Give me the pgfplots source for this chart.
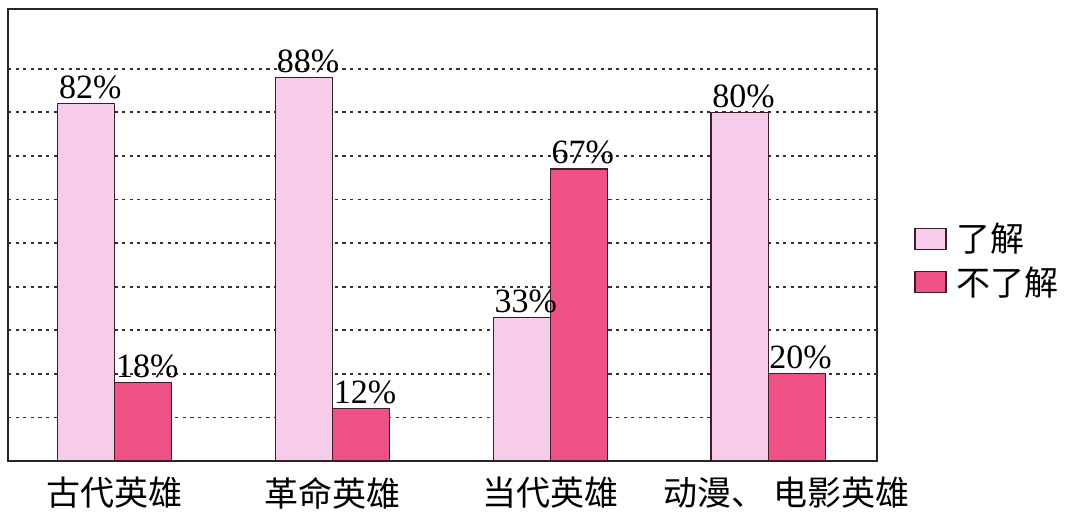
\documentclass[border=0pt]{standalone}
\usepackage{pgfplots}
\pgfplotsset{compat=1.18}
\usepackage{fontspec}
\setmainfont{Liberation Serif}
\newfontfamily\cjk{Noto Sans CJK SC}
\definecolor{lightpink}{RGB}{247,204,234}
\definecolor{darkpink}{RGB}{238,82,132}
\definecolor{edge}{RGB}{60,30,40}
\begin{document}
\begin{tikzpicture}
\path[use as bounding box] (-4pt,-29pt) rectangle (537pt,230.5pt);
\begin{axis}[
  at={(0,0)}, anchor=south west,
  scale only axis, width=434.5pt, height=226pt,
  xmin=-0.49, xmax=3.5, ymin=0, ymax=103.7,
  axis line style={line width=1pt, black!85},
  xtick={0,1,2,3},
  xticklabels={古代英雄,革命英雄,当代英雄,{\hspace*{18pt}动漫、\hspace{4pt}电影英雄}},
  xticklabel style={font=\cjk\fontsize{17pt}{19pt}\selectfont, anchor=center, yshift=-16pt},
  ytick={10,20,...,90}, yticklabels={},
  major tick length=0pt,
  ymajorgrids,
  grid style={line width=0.9pt, black!80, dash pattern=on 1.6pt off 2.2pt},
  ybar=0pt, bar width=0.262,
  nodes near coords={\pgfmathprintnumber[assume math mode=true]{\pgfplotspointmeta}\%},
  every node near coord/.append style={font=\fontsize{17pt}{19pt}\selectfont, inner sep=0pt, anchor=south, yshift=2pt, xshift=2pt, black},
  legend style={draw=none, fill=none, at={(1.0426,0.4436)}, anchor=west,
    font=\cjk\fontsize{17pt}{19pt}\selectfont, inner sep=0pt,
    row sep=4pt, nodes={inner sep=1pt},
    /tikz/every even column/.append style={column sep=0pt}},
  legend cell align=left,
  legend image code/.code={\draw[#1, line width=0.6pt] (0pt,-5.25pt) rectangle (15.5pt,5.25pt);},
]
\addplot[fill=lightpink, draw=edge, line width=0.6pt] coordinates {(0,82) (1,88) (2,33) (3,80)};
\addplot[fill=darkpink, draw=edge, line width=0.6pt] coordinates {(0,18) (1,12) (2,67) (3,20)};
\legend{\hspace{4pt}了解,\hspace{4pt}不了解}
\end{axis}
\end{tikzpicture}
\end{document}
